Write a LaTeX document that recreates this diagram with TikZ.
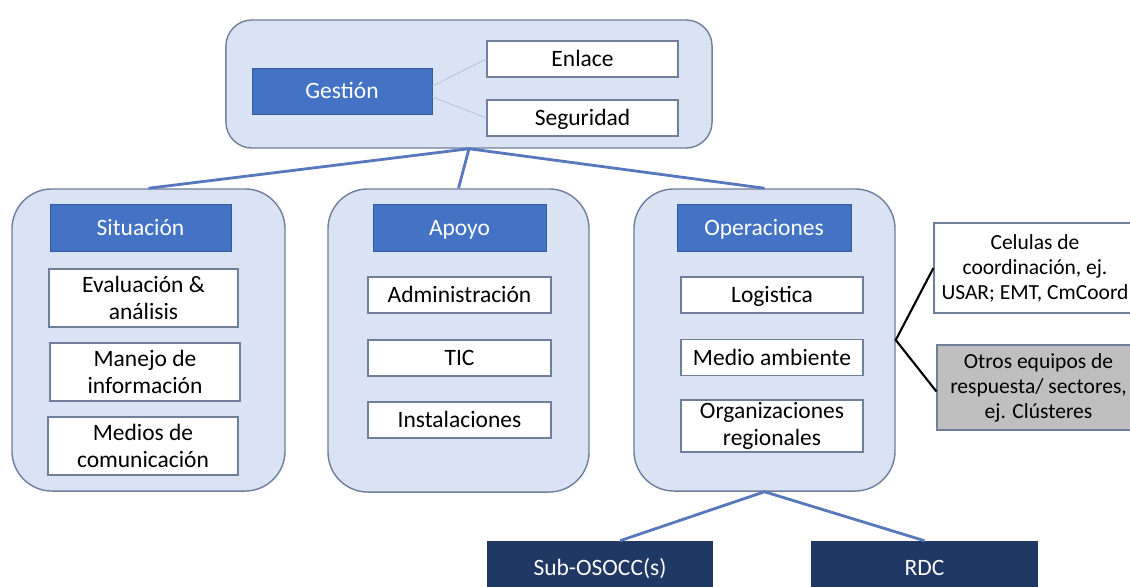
\documentclass[tikz,border=0pt]{standalone}
\usepackage{fontspec}
\setmainfont{Carlito}
\definecolor{marco}{HTML}{DAE3F3}
\definecolor{borde}{HTML}{6F7F9C}
\definecolor{cabeza}{HTML}{4472C4}
\definecolor{enlaceazul}{HTML}{5878BE}
\definecolor{marino}{HTML}{203864}
\definecolor{gris}{HTML}{BFBFBF}
\tikzset{
  contenedor/.style={draw=borde, line width=1pt, fill=marco, rounded corners=1cm},
  unalinea/.style={text height=14.5pt, text depth=3.5pt},
  cabecera/.style={fill=cabeza, draw=cabeza!80!black, line width=0.6pt, text=white,
    minimum height=1.175cm, font=\fontsize{16.7}{19.5}\selectfont, unalinea},
  tarea/.style={fill=white, draw=borde, line width=0.8pt, align=center,
    font=\fontsize{16.7}{19.5}\selectfont, inner sep=1pt},
  nota/.style={draw=borde, line width=0.8pt, align=center,
    font=\fontsize{15.3}{17.8}\selectfont, inner sep=1pt},
  marinobox/.style={fill=marino, text=white!90!marco, minimum height=1.35cm,
    font=\fontsize{16.7}{19.5}\selectfont, unalinea},
  conector/.style={draw=enlaceazul, line width=2pt},
}
\begin{document}
\begin{tikzpicture}[x=0.025cm, y=-0.025cm]
  \clip (0,0) rectangle (1130,586);
  \fill[white] (0,0) rectangle (1130,586);

  % Gestion
  \node[contenedor, rounded corners=0.65cm, minimum width=12.15cm, minimum height=3.2cm] (gestionbox) at (469,84) {};
  \node[cabecera, minimum width=4.5cm, minimum height=1.15cm] (gestion) at (342,91) {Gestión};
  \node[tarea, unalinea, minimum width=4.775cm, minimum height=0.9cm] (enlace) at (582.5,59) {Enlace};
  \node[tarea, unalinea, minimum width=4.775cm, minimum height=0.9cm] (seguridad) at (582.5,118) {Seguridad};
  \draw[draw=enlaceazul!45, line width=0.6pt] ([yshift=0.125cm]gestion.east) -- (enlace.west);
  \draw[draw=enlaceazul!45, line width=0.6pt] ([yshift=-0.15cm]gestion.east) -- (seguridad.west);

  % Situacion
  \node[contenedor, minimum width=6.825cm, minimum height=7.55cm] (situacionbox) at (148.5,340) {};
  \node[cabecera, minimum width=4.525cm] (situacion) at (140.5,227.5) {Situación};
  \node[tarea, minimum width=4.725cm, minimum height=1.45cm] (evaluacion) at (143.5,298) {Evaluación \&\\análisis};
  \node[tarea, minimum width=4.75cm, minimum height=1.45cm] (manejo) at (145,372) {Manejo de\\información};
  \node[tarea, minimum width=4.75cm, minimum height=1.45cm] (medios) at (143,446) {Medios de\\comunicación};

  % Apoyo
  \node[contenedor, minimum width=6.525cm, minimum height=7.575cm] (apoyobox) at (458.5,340.5) {};
  \node[cabecera, minimum width=4.325cm] (apoyo) at (459.5,227.5) {Apoyo};
  \foreach \nombre/\y/\texto in {admin/295/Administración, tic/358/TIC, instalaciones/420/Instalaciones}
    \node[tarea, unalinea, minimum width=4.575cm, minimum height=0.9cm] (\nombre) at (459.5,\y) {\texto};

  % Operaciones
  \node[contenedor, minimum width=6.525cm, minimum height=7.55cm] (operacionesbox) at (764.5,340) {};
  \node[cabecera, minimum width=4.35cm] (operaciones) at (764,227.5) {Operaciones};
  \node[tarea, unalinea, minimum width=4.55cm, minimum height=0.9cm] (logistica) at (772,295) {Logistica};
  \node[tarea, unalinea, minimum width=4.55cm, minimum height=0.9cm] (medio) at (772,357.5) {Medio ambiente};
  \node[tarea, minimum width=4.55cm, minimum height=1.3cm] (organizaciones) at (772,426) {Organizaciones\\regionales};

  % Otros equipos
  \node[nota, fill=white, minimum width=5.05cm, minimum height=2.25cm] (celulas) at (1035,268) {Celulas de\\coordinación, ej.\\USAR; EMT, CmCoord};
  \node[nota, fill=gris, minimum width=5.075cm, minimum height=2.125cm] (otros) at (1038.5,387.5) {Otros equipos de\\respuesta/ sectores,\\ej. Clústeres};
  \draw[black, line width=1.5pt] (celulas.west) -- (operacionesbox.east) -- ([yshift=-0.1cm]otros.west);

  % Sub-OSOCC y RDC
  \node[marinobox, minimum width=5.65cm] (subosocc) at (600,568) {Sub-OSOCC(s)};
  \node[marinobox, minimum width=5.675cm] (rdc) at (924.5,568) {RDC};

  % Conectores
  \draw[conector] (situacionbox.north) -- (gestionbox.south) -- (operacionesbox.north);
  \draw[conector] (gestionbox.south) -- (apoyobox.north);
  \draw[conector] ([xshift=0.5cm]subosocc.north) -- (operacionesbox.south) -- (rdc.north);
\end{tikzpicture}
\end{document}
